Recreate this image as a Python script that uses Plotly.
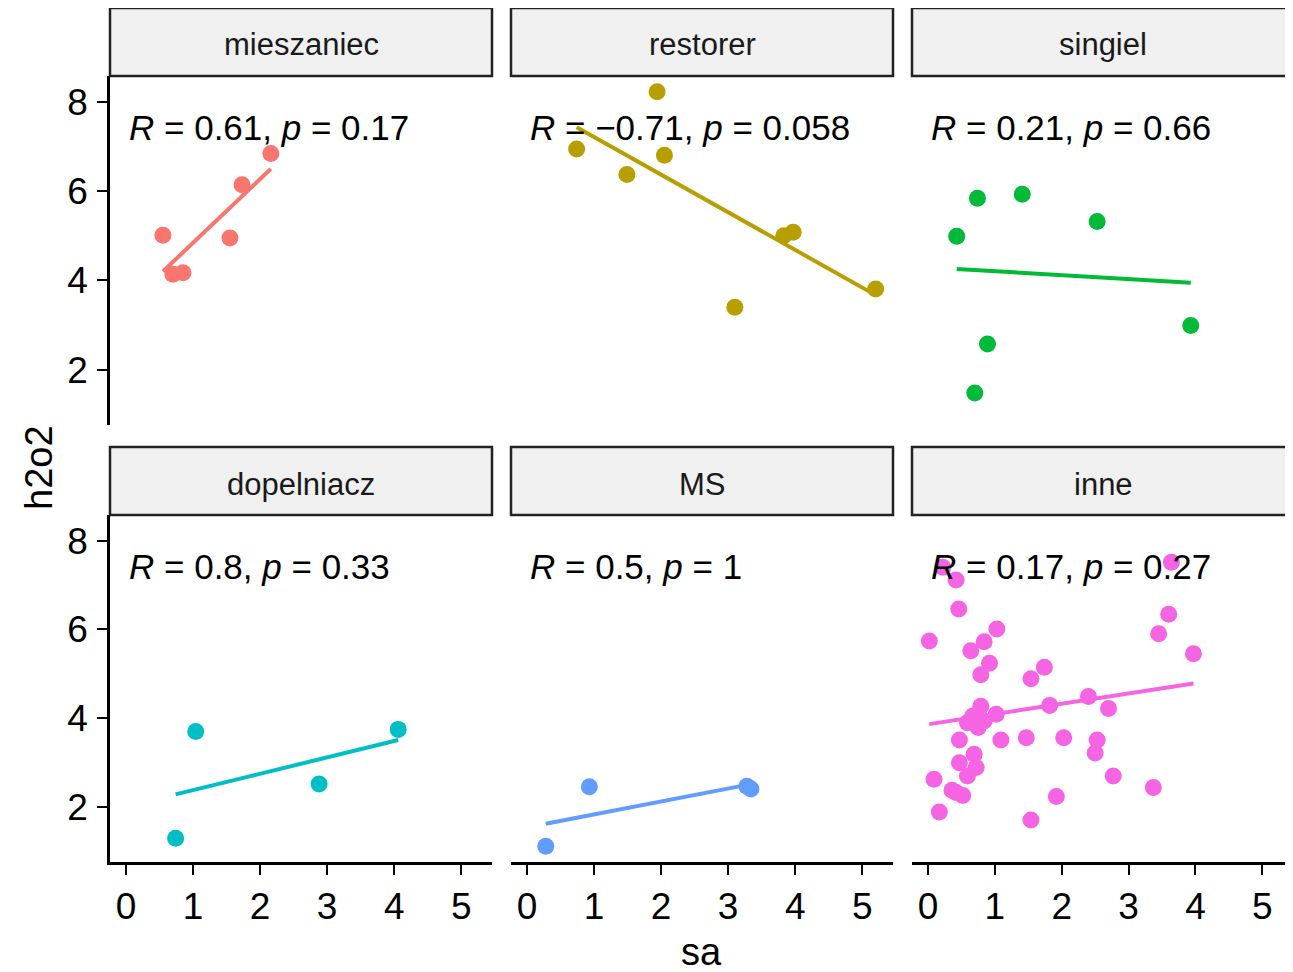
import numpy as np
import plotly.graph_objects as go

# ---- data ----
groups = ["mieszaniec", "restorer", "singiel", "dopelniacz", "MS", "inne"]
colors = ["#F8766D", "#B79F00", "#00BA38", "#00BFC4", "#619CFF", "#F564E3"]

mieszaniec_sa = [0.55, 0.70, 0.85, 1.55, 1.73, 2.16]
mieszaniec_h2o2 = [5.01, 4.14, 4.17, 4.95, 6.14, 6.84]

restorer_sa = [1.94, 0.74, 2.05, 1.49, 3.83, 3.97, 3.10, 5.20]
restorer_h2o2 = [8.22, 6.94, 6.80, 6.37, 5.00, 5.08, 3.40, 3.81]

singiel_sa = [0.43, 0.74, 1.41, 2.53, 3.93, 0.89, 0.70]
singiel_h2o2 = [4.99, 5.84, 5.93, 5.32, 2.99, 2.58, 1.48]

dopelniacz_sa = [0.74, 1.04, 2.88, 4.06]
dopelniacz_h2o2 = [1.30, 3.70, 2.52, 3.75]

MS_sa = [0.28, 0.93, 3.34, 3.28]
MS_h2o2 = [1.12, 2.46, 2.41, 2.47]

inne_sa = [0.22, 0.42, 0.46, 0.02, 1.03, 0.84, 0.64, 0.92, 0.79, 1.74,
           1.54, 0.67, 0.79, 0.84, 1.02, 0.59, 0.75, 1.82, 2.40, 2.70,
           0.47, 1.09, 1.47, 2.03, 2.53, 2.50, 0.69, 0.47, 0.72, 0.59,
           0.09, 0.42, 0.52, 0.36, 0.17, 1.92, 1.54, 2.77, 3.64, 3.60,
           3.45, 3.97, 3.37]
inne_h2o2 = [7.40, 7.11, 6.46, 5.74, 6.01, 5.72, 5.52, 5.24, 4.98, 5.15,
             4.89, 4.05, 4.27, 3.94, 4.09, 3.90, 3.79, 4.29, 4.49, 4.22,
             3.51, 3.51, 3.56, 3.56, 3.51, 3.22, 3.19, 3.00, 2.89, 2.70,
             2.63, 2.33, 2.26, 2.38, 1.89, 2.24, 1.71, 2.70, 7.51, 6.34,
             5.90, 5.45, 2.44]

cor_labels = [
    "<i>R</i> = 0.61, <i>p</i> = 0.17",
    "<i>R</i> = \u22120.71, <i>p</i> = 0.058",
    "<i>R</i> = 0.21, <i>p</i> = 0.66",
    "<i>R</i> = 0.8, <i>p</i> = 0.33",
    "<i>R</i> = 0.5, <i>p</i> = 1",
    "<i>R</i> = 0.17, <i>p</i> = 0.27",
]

x_ticks = [0, 1, 2, 3, 4, 5]
y_ticks = [2, 4, 6, 8]

series_x = [mieszaniec_sa, restorer_sa, singiel_sa, dopelniacz_sa, MS_sa, inne_sa]
series_y = [mieszaniec_h2o2, restorer_h2o2, singiel_h2o2, dopelniacz_h2o2, MS_h2o2, inne_h2o2]

# ---- layout geometry (window pixels); page body has an 8px margin ----
OFF = 8
W, H = 1293 - OFF, 972 - OFF
col_px = [(110, 492), (511, 893), (912, 1294)]
row_plot_px = [(76, 425), (515, 862)]
row_strip_px = [(8, 76), (447, 515)]


def px(xp):
    return min(max((xp - OFF) / W, 0.0), 1.0)


def py(yp):
    return min(max(1 - (yp - OFF) / H, 0.0), 1.0)


FONT = "Liberation Sans, Arial, sans-serif"

all_x = np.concatenate([np.array(v) for v in series_x])
all_y = np.concatenate([np.array(v) for v in series_y])
xr = [all_x.min(), all_x.max()]
yr = [all_y.min(), all_y.max()]
xpad = 0.05 * (xr[1] - xr[0])
ypad = 0.05 * (yr[1] - yr[0])
x_range = [xr[0] - xpad, xr[1] + xpad]
y_range = [yr[0] - ypad, yr[1] + ypad]

fig = go.Figure()
shapes = []
annotations = []

for i, g in enumerate(groups):
    r, c = divmod(i, 3)
    ax = "" if i == 0 else str(i + 1)
    xa, ya = "x" + ax, "y" + ax
    x = np.array(series_x[i])
    y = np.array(series_y[i])
    fig.add_trace(go.Scatter(x=x, y=y, mode="markers", xaxis=xa, yaxis=ya,
                             marker=dict(color=colors[i], size=17, line=dict(width=0)),
                             showlegend=False, hoverinfo="x+y"))
    b, a = np.polyfit(x, y, 1)
    xl = np.linspace(x.min(), x.max(), 80)
    fig.add_trace(go.Scatter(x=xl, y=a + b * xl, mode="lines", xaxis=xa, yaxis=ya,
                             line=dict(color=colors[i], width=4),
                             showlegend=False, hoverinfo="skip"))

    x0p, x1p = col_px[c]
    y0p, y1p = row_plot_px[r]
    xdom = [px(x0p), px(x1p)]
    ydom = [py(y1p), py(y0p)]
    bottom = r == 1
    left = c == 0
    fig.layout["xaxis" + ax] = dict(
        domain=xdom, range=x_range, anchor=ya, tickvals=x_ticks,
        showgrid=False, zeroline=False,
        showline=bottom, linecolor="black", linewidth=2.5,
        ticks="outside" if bottom else "", ticklen=10, tickwidth=2, tickcolor="black",
        showticklabels=bottom, tickfont=dict(family=FONT, size=37, color="black"),
        ticklabelstandoff=0,
    )
    fig.layout["yaxis" + ax] = dict(
        domain=ydom, range=y_range, anchor=xa, tickvals=y_ticks,
        showgrid=False, zeroline=False,
        showline=left, linecolor="black", linewidth=2.5,
        ticks="outside" if left else "", ticklen=10, tickwidth=2, tickcolor="black",
        showticklabels=left, tickfont=dict(family=FONT, size=37, color="black"),
        ticklabelstandoff=2,
    )

    # strip
    s0, s1 = row_strip_px[r]
    shapes.append(dict(type="rect", xref="paper", yref="paper",
                       x0=px(x0p), x1=px(x1p), y0=py(s1), y1=py(s0),
                       fillcolor="#F0F0F0", line=dict(color="#222222", width=2.5),
                       layer="below"))
    annotations.append(dict(text=g, xref="paper", yref="paper",
                            x=px((x0p + x1p) / 2), y=py((s0 + s1) / 2 + 3),
                            xanchor="center", yanchor="middle", showarrow=False,
                            font=dict(family=FONT, size=31, color="#1a1a1a")))
    # correlation label
    annotations.append(dict(text=cor_labels[i], xref="paper", yref="paper",
                            x=px(x0p + 17), y=py(y0p + 51),
                            xanchor="left", yanchor="middle", showarrow=False,
                            font=dict(family=FONT, size=35, color="black")))

annotations.append(dict(text="sa", xref="paper", yref="paper", x=px(701), y=py(952),
                        xanchor="center", yanchor="middle", showarrow=False,
                        font=dict(family=FONT, size=38, color="black")))
annotations.append(dict(text="h2o2", xref="paper", yref="paper", x=px(39), y=py(468),
                        xanchor="center", yanchor="middle", showarrow=False, textangle=-90,
                        font=dict(family=FONT, size=38, color="black")))

fig.update_layout(width=W, height=H, margin=dict(l=0, r=0, t=0, b=0),
                  paper_bgcolor="white", plot_bgcolor="white",
                  shapes=shapes, annotations=annotations, showlegend=False)

fig.write_html("out.html")
